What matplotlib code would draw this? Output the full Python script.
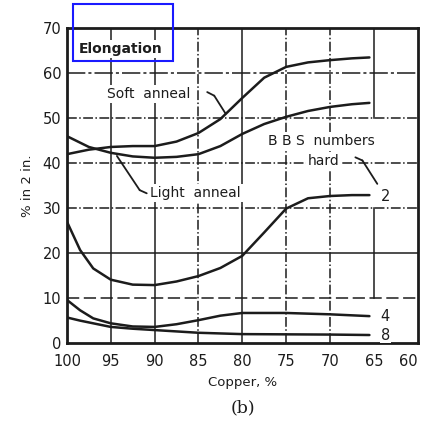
import numpy as np
import matplotlib
matplotlib.use("Agg")
import matplotlib.pyplot as plt
from matplotlib.patches import Rectangle

# values (copper % -> elongation % in 2 in.)
soft_x = [100, 97.5, 95, 92.5, 90, 87.5, 85, 82.5, 80, 77.5, 75, 72.5, 70, 67.5, 65.5]
soft_y = [42.0, 43.0, 43.6, 43.8, 43.8, 44.8, 46.7, 49.8, 54.5, 59.0, 61.4, 62.4, 62.9, 63.3, 63.5]

light_x = [100, 97.5, 95, 92.5, 90, 87.5, 85, 82.5, 80, 77.5, 75, 72.5, 70, 67.5, 65.5]
light_y = [46.0, 43.6, 42.3, 41.5, 41.2, 41.4, 42.0, 43.8, 46.5, 48.7, 50.3, 51.6, 52.5, 53.1, 53.4]

hard2_x = [100, 98.5, 97, 95, 92.5, 90, 87.5, 85, 82.5, 80, 77.5, 75, 72.5, 70, 67.5, 65.5]
hard2_y = [27.0, 20.7, 16.6, 14.1, 13.0, 12.9, 13.7, 14.9, 16.7, 19.4, 24.6, 29.9, 32.2, 32.7, 32.9, 32.9]

hard4_x = [100, 98.5, 97, 95, 92.5, 90, 87.5, 85, 82.5, 80, 75, 70, 65.5]
hard4_y = [9.6, 7.3, 5.5, 4.4, 3.7, 3.6, 4.2, 5.1, 6.1, 6.7, 6.7, 6.4, 6.0]

hard8_x = [100, 98.5, 95, 92.5, 90, 85, 80, 70, 65.5]
hard8_y = [5.7, 5.0, 3.6, 3.2, 2.9, 2.3, 2.0, 1.9, 1.8]

x_ticks = [100, 95, 90, 85, 80, 75, 70, 65, 60]
y_ticks = [0, 10, 20, 30, 40, 50, 60, 70]

ink = "#1c1c1c"

fig = plt.figure(figsize=(4.21, 4.21), dpi=100)
ax = fig.add_axes([0.159, 0.185, 0.833, 0.748])
ax.set_xlim(100, 60)
ax.set_ylim(0, 70)

# grid, mixed line styles like the original print
v_styles = {95: "-", 90: "-", 85: "-.", 80: "-", 75: "-.", 70: "-.", 65: "-"}
for xv, ls in v_styles.items():
    if xv == 65:
        ax.axvline(xv, ymin=50 / 70, ymax=1, color=ink, lw=1.1, ls=ls, zorder=1)
        ax.axvline(xv, ymin=10 / 70, ymax=30 / 70, color=ink, lw=1.1, ls=ls, zorder=1)
    else:
        ax.axvline(xv, color=ink, lw=1.1, ls=ls, zorder=1)
h_styles = {10: (0, (8, 3)), 20: "-", 30: "-.", 40: "-.", 50: "-.", 60: (0, (12, 2, 2, 2))}
for yv, ls in h_styles.items():
    ax.axhline(yv, color=ink, lw=1.1, ls=ls, zorder=1)

for xs, ys in [(soft_x, soft_y), (light_x, light_y), (hard2_x, hard2_y),
               (hard4_x, hard4_y), (hard8_x, hard8_y)]:
    ax.plot(xs, ys, color=ink, lw=1.8, solid_capstyle="round", zorder=3)

for s in ax.spines.values():
    s.set_linewidth(2)
    s.set_color(ink)

ax.set_xticks(x_ticks)
ax.set_yticks(y_ticks)
ax.tick_params(axis="x", length=0, labelsize=10.5, colors=ink, pad=8)
ax.tick_params(axis="y", length=0, labelsize=10.5, colors=ink, pad=4)
ax.get_xticklabels()[-1].set_horizontalalignment("right")
ax.set_xlabel("Copper, %", fontsize=9.5, color=ink, labelpad=5)
ax.set_ylabel("% in 2 in.", fontsize=9.5, color=ink, labelpad=6)

box = dict(facecolor="white", edgecolor="none", pad=1.5)
ax.text(98.6, 65.3, "Elongation", fontsize=10, color=ink, fontweight="semibold",
        va="center", ha="left", bbox=box, zorder=4)
ax.text(95.4, 55.3, "Soft  anneal", fontsize=10, color=ink, va="center", ha="left",
        bbox=box, zorder=4)
ax.text(90.5, 33.3, "Light  anneal", fontsize=10, color=ink, va="center", ha="left",
        bbox=box, zorder=4)
ax.text(77.1, 44.9, "B B S  numbers", fontsize=10, color=ink, va="center", ha="left",
        bbox=box, zorder=4)
ax.text(72.5, 40.5, "hard", fontsize=10, color=ink, va="center", ha="left",
        bbox=box, zorder=4)
for lab, yv in [("2", 32.6), ("4", 6.0), ("8", 1.8)]:
    ax.text(64.2, yv, lab, fontsize=10.5, color=ink, va="center", ha="left",
            bbox=dict(facecolor="white", edgecolor="none", pad=0.5), zorder=4)

lead = dict(arrowstyle="-", color=ink, lw=1.3, shrinkA=0, shrinkB=0)
# soft anneal leader with its small hook
ax.annotate("", xy=(83.2, 55.0), xytext=(84.0, 55.8), arrowprops=lead, zorder=4)
ax.annotate("", xy=(81.9, 51.0), xytext=(83.2, 55.0), arrowprops=lead, zorder=4)
# light anneal leader
ax.annotate("", xy=(91.7, 34.0), xytext=(90.9, 33.3), arrowprops=lead, zorder=4)
ax.annotate("", xy=(94.3, 41.6), xytext=(91.7, 34.0), arrowprops=lead, zorder=4)
# hard leader
ax.annotate("", xy=(66.3, 40.6), xytext=(67.1, 41.3), arrowprops=lead, zorder=4)
ax.annotate("", xy=(64.6, 35.4), xytext=(66.3, 40.6), arrowprops=lead, zorder=4)

fig.text(0.577, 0.03, "(b)", fontsize=12.5, family="DejaVu Serif", color=ink,
         ha="center", va="center")

fig.add_artist(Rectangle((0.173, 0.855), 0.2375, 0.135, transform=fig.transFigure,
                         fill=False, edgecolor="#1a1aff", lw=1.5))

fig.savefig("out.png", dpi=100)
